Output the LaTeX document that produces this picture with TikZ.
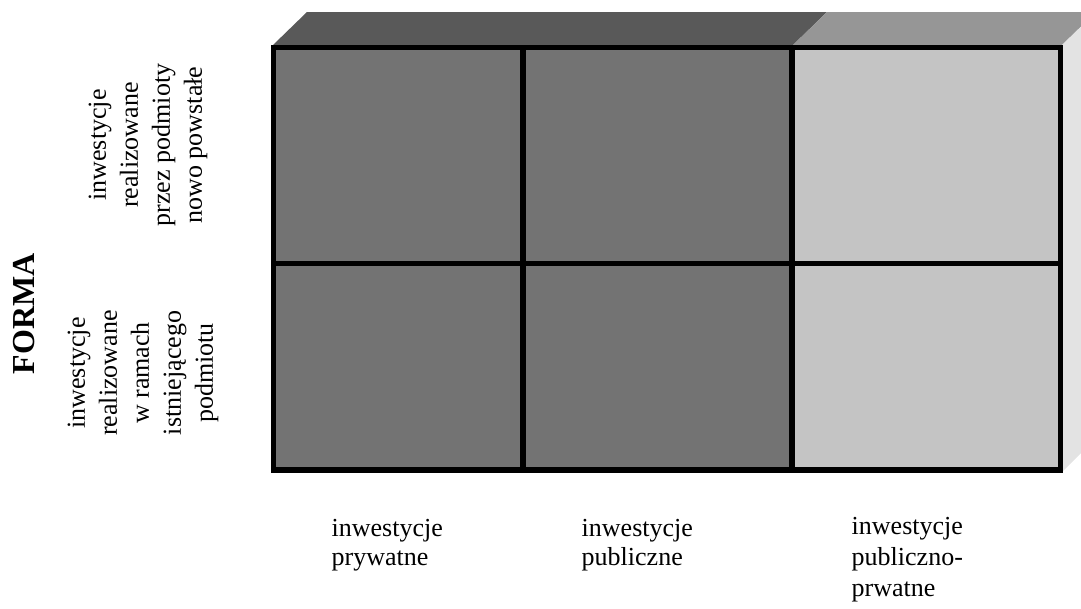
\documentclass[tikz,border=0pt]{standalone}
\usepackage{fontspec}
\setmainfont{Liberation Serif}
\usepackage{tikz}

\definecolor{celldark}{HTML}{737373}
\definecolor{celllight}{HTML}{C4C4C4}
\definecolor{topdark}{HTML}{595959}
\definecolor{toplight}{HTML}{969696}
\definecolor{sideface}{HTML}{E3E3E3}

\begin{document}
\begin{tikzpicture}[x = 1pt, y = -1pt,
  collabel/.style = {inner sep = 0pt, anchor = north west, align = left, font = \fontsize{26}{29}\selectfont},
  rowlabel/.style = {inner sep = 0pt, rotate = 90, align = center, font = \fontsize{26}{32}\selectfont},
  grid/.style = {line width = 5.5pt}]
\clip (0,0) rectangle (1081,608);

% faces of the block
\fill [topdark] (273,45) -- (307,12) -- (827,12) -- (793,45) -- cycle;
\fill [toplight] (793,45) -- (827,12) -- (1096,12) -- (1062,45) -- cycle;
\fill [sideface] (1062,45) -- (1096,12) -- (1096,438) -- (1062,472) -- cycle;

\fill [celldark] (273.5,47.5) rectangle (792,470);
\fill [celllight] (792,47.5) rectangle (1060.5,470);

\draw [grid] (273.5,47.5) rectangle (1060.5,470);
\draw [grid] (523,47.5) -- (523,470);
\draw [grid] (792,47.5) -- (792,470);
\draw [grid] (273.5,263.7) -- (1060.5,263.7);

% labels
\node [rowlabel] (nowe) at (148,145) {inwestycje\\realizowane\\przez podmioty\\nowo powstałe};
\node [rowlabel] (istniejace) at (143,373) {inwestycje\\realizowane\\w ramach\\istniejącego\\podmiotu};
\node [rotate = 90, inner sep = 0pt, font = \fontsize{32}{36}\selectfont\bfseries] (forma) at (24,314) {FORMA};

\node [collabel] (prywatne) at (331.5,519) {inwestycje\\prywatne};
\node [collabel] (publiczne) at (581.5,519) {inwestycje\\publiczne};
\node [collabel, font = \fontsize{26}{31}\selectfont] (ppp) at (851.5,517) {inwestycje\\publiczno-\\prwatne};
\end{tikzpicture}
\end{document}
